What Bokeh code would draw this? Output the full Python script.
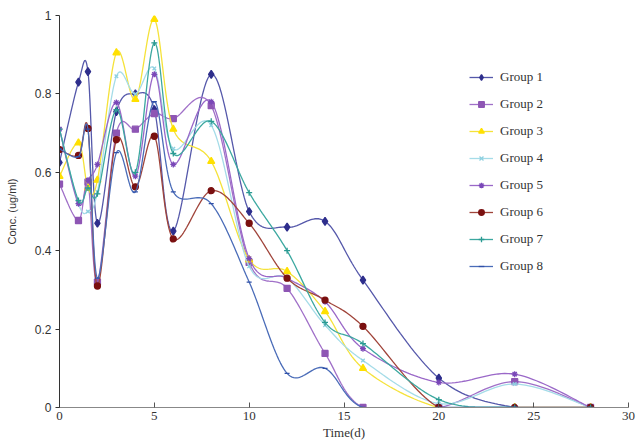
import numpy as np
from bokeh.plotting import figure
from bokeh.models import Legend, LegendItem, FixedTicker, Range1d
from bokeh.embed import file_html
from bokeh.resources import INLINE

time_d = [0, 1, 1.5, 2, 3, 4, 5, 6, 8, 10, 12, 14, 16, 20, 24, 28]
group_names = ["Group 1", "Group 2", "Group 3", "Group 4", "Group 5", "Group 6", "Group 7", "Group 8"]
group1 = [0.625, 0.83, 0.857, 0.47, 0.755, 0.80, 0.76, 0.45, 0.85, 0.50, 0.46, 0.475, 0.325, 0.075, 0.0, 0.0]
group2 = [0.57, 0.477, 0.575, 0.32, 0.70, 0.71, 0.75, 0.737, 0.77, 0.37, 0.304, 0.138, 0.0, 0.0, 0.066, 0.0]
group3 = [0.59, 0.675, 0.56, 0.58, 0.905, 0.786, 0.99, 0.71, 0.628, 0.377, 0.347, 0.245, 0.10, 0.0, 0.0, 0.0]
group4 = [0.71, 0.52, 0.50, 0.55, 0.845, 0.80, 0.865, 0.66, 0.72, 0.36, 0.33, 0.21, 0.12, 0.01, 0.06, 0.0]
group5 = [0.71, 0.52, 0.58, 0.62, 0.778, 0.59, 0.85, 0.62, 0.78, 0.38, 0.33, 0.27, 0.15, 0.064, 0.085, 0.0]
group6 = [0.658, 0.643, 0.712, 0.31, 0.683, 0.563, 0.692, 0.43, 0.553, 0.47, 0.33, 0.274, 0.207, 0.0, 0.0, 0.0]
group7 = [0.71, 0.528, 0.56, 0.545, 0.76, 0.60, 0.93, 0.648, 0.73, 0.548, 0.40, 0.217, 0.163, 0.02, 0.0, 0.0]
group8 = [0.66, 0.64, 0.71, 0.33, 0.65, 0.55, 0.78, 0.55, 0.52, 0.32, 0.087, 0.10, 0.0, 0.0, 0.0, 0.0]
groups = [group1, group2, group3, group4, group5, group6, group7, group8]

line_colors = ["#5558AA", "#A070C8", "#F5E23A", "#A5DCE8", "#9A68C8", "#A0443A", "#3CA8A0", "#4A6CB8"]
marker_colors = ["#2E2E8C", "#8E56B4", "#FFE000", "#8ED0E0", "#7A48B8", "#7A1010", "#2A9A92", "#3050A8"]
markers = ["diamond", "square", "triangle", "x", "asterisk", "circle", "cross", "dash"]
marker_sizes = [8, 6, 7, 5, 6, 6, 6, 5]


def smooth(xs, ys, n=24):
    # Bezier smoothing like spreadsheet "smoothed line", in screen-proportional space
    sx = 570.0 / 30.0
    sy = 392.0
    P = np.column_stack([np.asarray(xs, float) * sx, np.asarray(ys, float) * sy])
    t = np.linspace(0, 1, n)
    segs = []
    for i in range(len(P) - 1):
        p0 = P[i - 1] if i > 0 else P[i]
        p1 = P[i]
        p2 = P[i + 1]
        p3 = P[i + 2] if i + 2 < len(P) else P[i + 1]
        c1 = p1 + (p2 - p0) / 6.0
        c2 = p2 - (p3 - p1) / 6.0
        B = (((1 - t) ** 3)[:, None] * p1 + (3 * (1 - t) ** 2 * t)[:, None] * c1
             + (3 * (1 - t) * t ** 2)[:, None] * c2 + (t ** 3)[:, None] * p2)
        segs.append(B if i == 0 else B[1:])
    B = np.vstack(segs)
    return B[:, 0] / sx, B[:, 1] / sy


p = figure(width=636, height=442, output_backend="svg", toolbar_location=None,
           x_range=Range1d(0, 30), y_range=Range1d(0, 1),
           min_border_left=59, min_border_right=8, min_border_top=15, min_border_bottom=35)
p.outline_line_color = None
p.xgrid.visible = False
p.ygrid.visible = False
p.background_fill_color = "white"
p.border_fill_color = "white"

items = []
for name, ys, lc, mc, mk, ms in zip(group_names, groups, line_colors, marker_colors, markers, marker_sizes):
    sxs, sys_ = smooth(time_d, ys)
    r1 = p.line(sxs, sys_, line_color=lc, line_width=1.3)
    r2 = p.scatter(time_d, ys, marker=mk, size=ms, fill_color=mc, line_color=mc, line_width=1.3)
    items.append(LegendItem(label=name, renderers=[r1, r2]))

legend = Legend(items=items, location=(410, 131), orientation="vertical",
                label_text_font="Liberation Serif", label_text_font_size="13px",
                label_text_color="#333333",
                glyph_width=24, glyph_height=14, label_height=20, spacing=7,
                label_standoff=7, padding=0, margin=0,
                border_line_color=None, background_fill_alpha=0)
p.add_layout(legend)

p.xaxis.ticker = FixedTicker(ticks=[0, 5, 10, 15, 20, 25, 30])
p.yaxis.ticker = FixedTicker(ticks=[0, 0.2, 0.4, 0.6, 0.8, 1.0])
p.yaxis.major_label_overrides = {0: "0", 0.2: "0.2", 0.4: "0.4", 0.6: "0.6", 0.8: "0.8", 1: "1"}
p.xaxis.major_label_overrides = {0: "0", 5: "5", 10: "10", 15: "15", 20: "20", 25: "25", 30: "30"}

p.xaxis.axis_label = "Time(d)"
p.yaxis.axis_label = "Conc. (ug/ml)"
p.xaxis.axis_label_text_font = "Liberation Serif"
p.xaxis.axis_label_text_font_style = "normal"
p.xaxis.axis_label_text_font_size = "13px"
p.xaxis.axis_label_standoff = 2
p.yaxis.axis_label_text_font = "Liberation Sans"
p.yaxis.axis_label_text_font_style = "normal"
p.yaxis.axis_label_text_font_size = "11px"
p.yaxis.axis_label_standoff = 14
p.xaxis.major_label_text_font = "Liberation Serif"
p.xaxis.major_label_text_font_size = "13px"
p.yaxis.major_label_text_font = "Liberation Sans"
p.yaxis.major_label_text_font_size = "12px"
p.xaxis.major_label_standoff = 4
p.yaxis.major_label_standoff = 4
for ax in (p.xaxis, p.yaxis):
    ax.minor_tick_line_color = None
    ax.major_label_text_color = "#333333"
    ax.axis_label_text_color = "#333333"
p.xaxis.axis_line_color = "#888888"
p.yaxis.axis_line_color = "#333333"
p.xaxis.major_tick_in = 5
p.xaxis.major_tick_out = 0
p.xaxis.major_tick_line_color = "#555555"
p.yaxis.major_tick_in = 0
p.yaxis.major_tick_out = 4
p.yaxis.major_tick_line_color = "#333333"

open("out.html", "w").write(file_html(p, INLINE))
